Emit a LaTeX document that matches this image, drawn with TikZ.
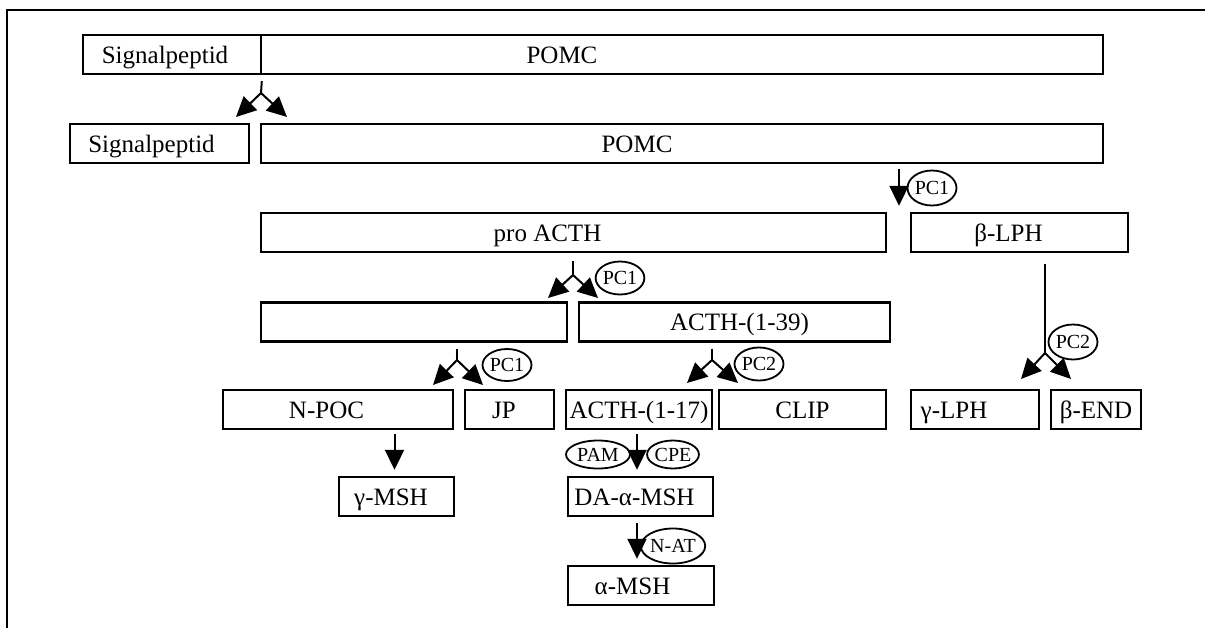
\documentclass[tikz,border=0pt]{standalone}
\usepackage{fontspec}
\setmainfont{Liberation Serif}
\usetikzlibrary{arrows.meta,shapes.geometric}

\begin{document}
\begin{tikzpicture}[
    x=0.5pt, y=-0.5pt,
    font=\fontsize{12.5}{14}\selectfont,
    box/.style={draw, line width=1.2pt, minimum height=19.5pt, inner xsep=0pt, inner ysep=0pt, text height=10pt, text depth=1.5pt},
    enz/.style={draw, ellipse, line width=0.9pt, inner sep=0pt, font=\fontsize{10}{11}\selectfont},
    ln/.style={line width=1pt},
    arr/.style={line width=1pt, -{Triangle[length=10pt, width=9.5pt]}}
]
    \useasboundingbox (0,0) rectangle (1205,628);
    \draw[line width=1.1pt] (7,628) -- (7,10) -- (1205,10);

    % Precursor
    \node[box, minimum width=89pt] (sp1) at (172,54.5) {Signalpeptid\kern7pt};
    \node[box, minimum width=421pt] (pomc1) at (682,54.5) {POMC\kern120pt};

    % Signal peptide cleaved off
    \node[box, minimum width=89.5pt] (sp2) at (159.5,143.5) {Signalpeptid\kern8pt};
    \node[box, minimum width=421pt] (pomc2) at (682,143.5) {POMC\kern45pt};

    % First PC1 cleavage
    \node[box, minimum width=312.5pt] (proacth) at (573.5,232.5) {pro ACTH\kern26pt};
    \node[box, minimum width=108.5pt] (blph) at (1019.5,232.5) {β-LPH\kern11pt};

    % Second PC1 cleavage
    \node[box, minimum width=153pt] (npro) at (414,322) {};
    \node[box, minimum width=155.5pt] (acth39) at (734.5,322) {\kern5pt ACTH-(1-39)};

    % Products
    \node[box, minimum width=115pt] (npoc) at (338,409.5) {N-POC\kern11.5pt};
    \node[box, minimum width=44.5pt] (jp) at (509.5,409.5) {JP\kern5.5pt};
    \node[box, minimum width=73pt] (acth17) at (639,409.5) {ACTH-(1-17)};
    \node[box, minimum width=83.5pt] (clip) at (802.5,409.5) {CLIP};
    \node[box, minimum width=64pt] (glph) at (975,409.5) {γ-LPH\kern21pt};
    \node[box, minimum width=45pt] (bend) at (1096,409.5) {β-END};
    \node[box, minimum width=57.5pt] (gmsh) at (396.5,496.5) {γ-MSH\kern5.5pt};
    \node[box, minimum width=72.5pt] (damsh) at (640.5,496.5) {DA-α-MSH\kern6pt};
    \node[box, minimum width=73pt] (amsh) at (641,585.5) {α-MSH\kern8.5pt};

    % Enzymes
    \node[enz, minimum width=24.5pt, minimum height=17.5pt] (pc1a) at (932,188) {PC1};
    \node[enz, minimum width=24pt, minimum height=16.5pt] (pc1b) at (620,278) {PC1};
    \node[enz, minimum width=24.5pt, minimum height=16pt] (pc1c) at (507,365) {PC1};
    \node[enz, minimum width=24.5pt, minimum height=16.5pt] (pc2a) at (759,364) {PC2};
    \node[enz, minimum width=24.5pt, minimum height=17.5pt] (pc2b) at (1073,342) {PC2};
    \node[enz, minimum width=32pt, minimum height=14pt] (pam) at (598,454.5) {PAM};
    \node[enz, minimum width=25pt, minimum height=14pt] (cpe) at (673,454.5) {CPE};
    \node[enz, minimum width=25.5pt, minimum height=17.5pt] (nat) at (673,546) {N-AT};

    % Split points
    \coordinate (j1) at (261,93);  \coordinate (j1l) at (236,117);  \coordinate (j1r) at (287,117);
    \coordinate (j3) at (573,275); \coordinate (j3l) at (548,298);  \coordinate (j3r) at (598,298);
    \coordinate (j4) at (457,360); \coordinate (j4l) at (433,385);  \coordinate (j4r) at (483,385);
    \coordinate (j5) at (712,360); \coordinate (j5l) at (687,383);  \coordinate (j5r) at (738,383);
    \coordinate (j6) at (1045,353); \coordinate (j6l) at (1021,379); \coordinate (j6r) at (1071,379);
    \coordinate (cut1) at (899,163);

    % Cleavages
    \draw[ln, shorten <=3pt] (sp1.south east) -- (j1);
    \draw[arr] (j1) -- (j1l); \draw[arr] (j1) -- (j1r);
    \draw[arr, shorten <=3pt, shorten >=3pt] (cut1) -- (cut1 |- blph.north);
    \draw[ln, shorten <=4pt] (j3 |- proacth.south) -- (j3);
    \draw[arr] (j3) -- (j3l); \draw[arr] (j3) -- (j3r);
    \draw[ln, shorten <=3pt] (j4 |- npro.south) -- (j4);
    \draw[arr] (j4) -- (j4l); \draw[arr] (j4) -- (j4r);
    \draw[ln, shorten <=3pt] (j5 |- acth39.south) -- (j5);
    \draw[arr] (j5) -- (j5l); \draw[arr] (j5) -- (j5r);
    \draw[ln, shorten <=5.5pt] (j6 |- blph.south) -- (j6);
    \draw[arr] (j6) -- (j6l); \draw[arr] (j6) -- (j6r);

    % Further processing
    \draw[arr, shorten <=2pt, shorten >=3pt] ([xshift=-1pt]gmsh.north |- npoc.south) -- ([xshift=-1pt]gmsh.north);
    \draw[arr, shorten <=2pt, shorten >=3pt] ([xshift=-1pt]acth17.south) -- ([xshift=-1pt]acth17.south |- damsh.north);
    \draw[arr, shorten <=3pt, shorten >=3pt] ([xshift=-1.75pt]damsh.south) -- ([xshift=-1.75pt]damsh.south |- amsh.north);
\end{tikzpicture}
\end{document}
